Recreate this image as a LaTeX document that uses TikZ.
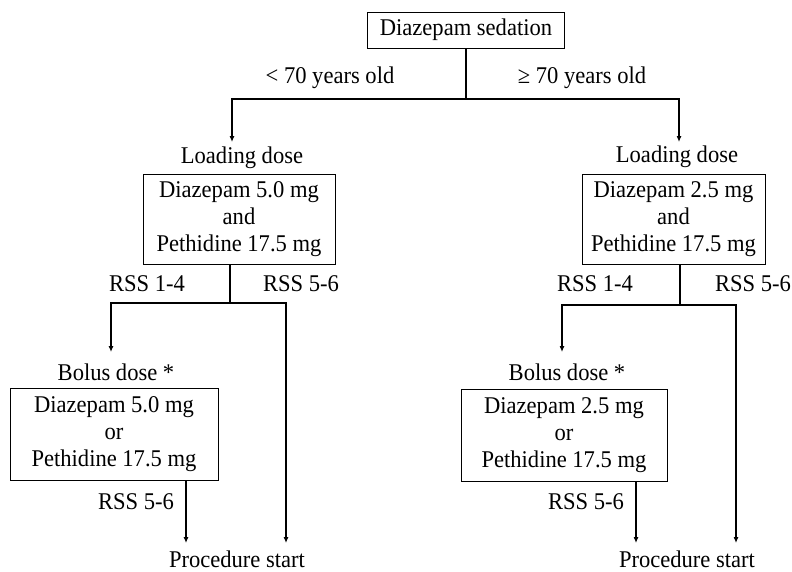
\documentclass[tikz,border=0pt]{standalone}
\usepackage{fontspec}
\setmainfont{Liberation Serif}[FakeStretch=0.94]
\usetikzlibrary{arrows.meta}

\begin{document}
\begin{tikzpicture}[x=1pt,y=1pt,yscale=-1,xscale=1,
		font=\fontsize{24}{27}\selectfont,
		box/.style={draw, line width=0.8pt, align=center, inner sep=0pt},
		lbl/.style={inner sep=0.75pt},
		link/.style={line width=1.1pt},
		arr/.style={link, -{Latex[length=6pt,width=5pt]}}]

		% Fix the picture to 792 x 571
		\useasboundingbox (0,0) rectangle (792,571);

		% The top box
		\node[box, minimum width=197pt, minimum height=36pt] (sedation) at (466,30) {Diazepam sedation};

		% The two age labels
		\node[lbl] (young) at (330,78) {< 70 years old};
		\node[lbl] (old) at (582,78) {≥ 70 years old};

		% Loading dose labels and boxes
		\node[lbl] (loadtxtL) at (242,158) {Loading dose};
		\node[lbl] (loadtxtR) at (677,157) {Loading dose};
		\node[box, minimum width=192pt, minimum height=90pt] (loadL) at (239,219) {Diazepam 5.0 mg\\and\\Pethidine 17.5 mg};
		\node[box, minimum width=183pt, minimum height=90pt] (loadR) at (673.5,219) {Diazepam 2.5 mg\\and\\Pethidine 17.5 mg};

		% RSS labels under the loading boxes
		\node[lbl] (rssLa) at (147,284) {RSS 1-4};
		\node[lbl] (rssLb) at (301,284) {RSS 5-6};
		\node[lbl] (rssRa) at (595,284) {RSS 1-4};
		\node[lbl] (rssRb) at (753,284) {RSS 5-6};

		% Bolus dose labels and boxes
		\node[lbl] (bolustxtL) at (116,372) {Bolus dose *};
		\node[lbl] (bolustxtR) at (567,372) {Bolus dose *};
		\node[box, minimum width=208pt, minimum height=92pt] (bolusL) at (114,434) {Diazepam 5.0 mg\\or\\Pethidine 17.5 mg};
		\node[box, minimum width=206pt, minimum height=92pt] (bolusR) at (564,435) {Diazepam 2.5 mg\\or\\Pethidine 17.5 mg};

		% RSS labels under the bolus boxes
		\node[lbl] (rssLc) at (136,502) {RSS 5-6};
		\node[lbl] (rssRc) at (586,502) {RSS 5-6};

		% Procedure start
		\node[lbl, anchor=base] (startL) at (237,567) {Procedure start};
		\node[lbl, anchor=base] (startR) at (687,567) {Procedure start};

		% Branch points and arrow ends
		\coordinate (fork) at (466,99);
		\coordinate (inL) at (232,142);
		\coordinate (inR) at (679,142);
		\coordinate (forkL) at (230,303);
		\coordinate (forkR) at (680,305);
		\coordinate (bolusinL) at (111,352);
		\coordinate (bolusinR) at (562,352);
		\coordinate (endLa) at (186,543);
		\coordinate (endLb) at (286,543);
		\coordinate (endRa) at (636,543);
		\coordinate (endRb) at (736,543);

		% Split by age
		\draw[link] (sedation) -- (fork);
		\draw[arr] (fork) -| (inL);
		\draw[arr] (fork) -| (inR);

		% Split after the loading dose
		\draw[link] (loadL.south -| forkL) -- (forkL);
		\draw[arr] (forkL) -| (bolusinL);
		\draw[arr] (forkL) -| (endLb);
		\draw[link] (loadR.south -| forkR) -- (forkR);
		\draw[arr] (forkR) -| (bolusinR);
		\draw[arr] (forkR) -| (endRb);

		% After the bolus dose
		\draw[arr] (bolusL.south -| endLa) -- (endLa);
		\draw[arr] (bolusR.south -| endRa) -- (endRa);
	\end{tikzpicture}
\end{document}
